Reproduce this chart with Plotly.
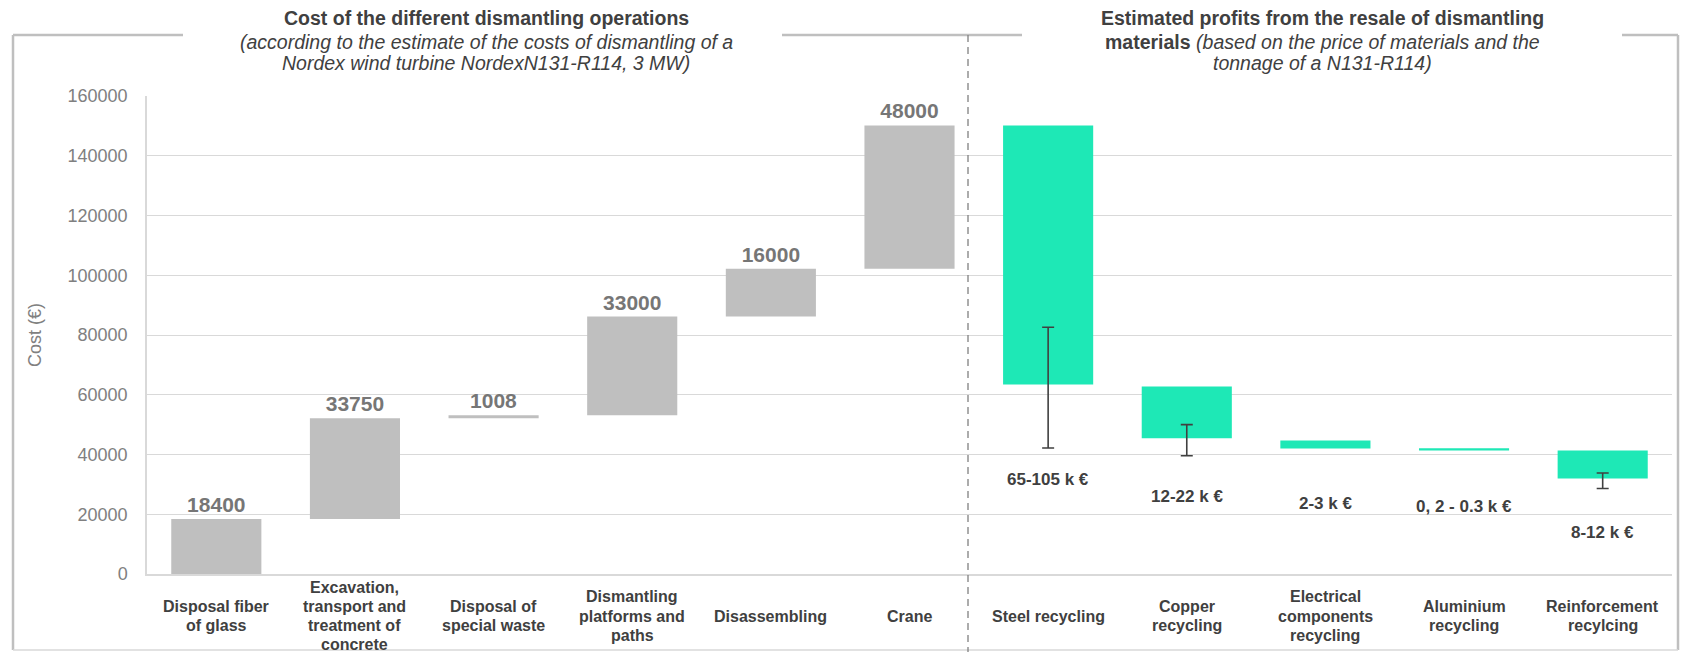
import plotly.graph_objects as go

# ---------------- data ----------------
cost_categories = [
    "Disposal fiber<br>of glass",
    "Excavation,<br>transport and<br>treatment of<br>concrete",
    "Disposal of<br>special waste",
    "Dismantling<br>platforms and<br>paths",
    "Disassembling",
    "Crane",
]
cost_values = [18400, 33750, 1008, 33000, 16000, 48000]

profit_categories = [
    "Steel recycling",
    "Copper<br>recycling",
    "Electrical<br>components<br>recycling",
    "Aluminium<br>recycling",
    "Reinforcement<br>recylcing",
]
profit_top = [150158, 62800, 44700, 42100, 41300]
profit_bottom = [63400, 45400, 42000, 41300, 32000]
profit_labels = ["65-105 k €", "12-22 k €", "2-3 k €", "0, 2 - 0.3 k €", "8-12 k €"]
profit_label_y = [31700, 26000, 23600, 22600, 13900]

err_categories = ["Steel recycling", "Copper<br>recycling", "Reinforcement<br>recylcing"]
err_center = [62400, 44800, 31200]
err_half = [20200, 5200, 2600]

y_ticks = [0, 20000, 40000, 60000, 80000, 100000, 120000, 140000, 160000]

# ---------------- layout geometry ----------------
W, H = 1683, 652
L, R, T, B = 147, 1672, 96, 574
FONT = "Liberation Sans, Arial, sans-serif"


def px(xp):
    return (xp - L) / (R - L)


def py(yp):
    return (B - yp) / (B - T)


# waterfall bases for the cost bars
cost_base = []
run = 0
for v in cost_values:
    cost_base.append(run)
    run += v

all_categories = cost_categories + profit_categories

fig = go.Figure()

fig.add_trace(go.Bar(
    x=cost_categories, y=cost_values, base=cost_base,
    marker=dict(color="#BFBFBF", line=dict(width=0)),
    width=0.65,
    text=["<b>%d</b>" % v for v in cost_values], textposition="outside",
    textfont=dict(family=FONT, size=21, color="#767676"),
    cliponaxis=False, showlegend=False,
))

fig.add_trace(go.Bar(
    x=profit_categories,
    y=[t - b for t, b in zip(profit_top, profit_bottom)],
    base=profit_bottom,
    marker=dict(color="#1EE8B6", line=dict(width=0)),
    width=0.65, showlegend=False,
))

fig.add_trace(go.Scatter(
    x=err_categories, y=err_center, mode="markers",
    marker=dict(size=1, opacity=0),
    error_y=dict(type="data", array=err_half, symmetric=True,
                 color="#404040", thickness=1.6, width=6),
    showlegend=False,
))

annotations = []
for c, t, yv in zip(profit_categories, profit_labels, profit_label_y):
    annotations.append(dict(
        x=c, y=yv, xref="x", yref="y", text="<b>%s</b>" % t, showarrow=False,
        font=dict(family=FONT, size=17, color="#404040"),
    ))

# category labels, one annotation per line for tight line pitch
LABEL_CENTER, PITCH = 616, 19.3
for c in all_categories:
    lines = c.split("<br>")
    n = len(lines)
    for i, ln in enumerate(lines):
        yline = LABEL_CENTER + (i - (n - 1) / 2) * PITCH
        annotations.append(dict(
            x=c, y=py(yline), xref="x", yref="paper", text="<b>%s</b>" % ln,
            showarrow=False, yanchor="middle", xanchor="center",
            font=dict(family=FONT, size=16, color="#404040"),
        ))

# y axis title
annotations.append(dict(
    x=px(35), y=0.5, xref="paper", yref="paper", text="Cost (€)",
    textangle=-90, showarrow=False, xanchor="center", yanchor="middle",
    font=dict(family=FONT, size=18, color="#808080"),
))

# titles
title_font = dict(family=FONT, size=19.5, color="#404040")
left_cx, right_cx = px(486), px(1322)
annotations += [
    dict(x=left_cx, y=py(18), text="<b>Cost of the different dismantling operations</b>"),
    dict(x=left_cx, y=py(41.5), text="<i>(according to the estimate of the costs of dismantling of a</i>"),
    dict(x=left_cx, y=py(63), text="<i>Nordex wind turbine NordexN131-R114, 3 MW)</i>"),
    dict(x=right_cx, y=py(18), text="<b>Estimated profits from the resale of dismantling</b>"),
    dict(x=right_cx, y=py(41.5), text="<b>materials</b> <i>(based on the price of materials and the</i>"),
    dict(x=right_cx, y=py(63), text="<i>tonnage of a N131-R114)</i>"),
]
for a in annotations[-6:]:
    a.update(xref="paper", yref="paper", showarrow=False,
             xanchor="center", yanchor="middle", font=title_font)

frame = dict(color="#BFBFBF", width=2.5)
shapes = [
    dict(type="line", xref="paper", yref="paper", x0=px(13), x1=px(13), y0=py(35), y1=py(650), line=frame),
    dict(type="line", xref="paper", yref="paper", x0=px(1678), x1=px(1678), y0=py(35), y1=py(650), line=frame),
    dict(type="line", xref="paper", yref="paper", x0=px(13), x1=px(183), y0=py(35), y1=py(35), line=frame),
    dict(type="line", xref="paper", yref="paper", x0=px(782), x1=px(1022), y0=py(35), y1=py(35), line=frame),
    dict(type="line", xref="paper", yref="paper", x0=px(1622), x1=px(1678), y0=py(35), y1=py(35), line=frame),
    dict(type="line", xref="paper", yref="paper", x0=px(13), x1=px(1678), y0=py(650), y1=py(650),
         line=dict(color="#D9D9D9", width=1.5)),
    dict(type="line", xref="paper", yref="paper", x0=px(968), x1=px(968), y0=py(35), y1=py(652),
         line=dict(color="#808080", width=1.3, dash="7px,5px")),
]

fig.update_layout(
    width=W, height=H,
    margin=dict(l=L, r=W - R, t=T, b=H - B),
    paper_bgcolor="white", plot_bgcolor="white",
    barmode="overlay",
    annotations=annotations, shapes=shapes,
    font=dict(family=FONT),
    xaxis=dict(
        type="category", categoryorder="array", categoryarray=all_categories,
        range=[-0.5, len(all_categories) - 0.5],
        showticklabels=False, showgrid=False, ticks="",
        showline=True, linecolor="#D9D9D9", linewidth=1.5, zeroline=False,
    ),
    yaxis=dict(
        range=[0, 160000], tickvals=y_ticks, tickformat="d",
        showgrid=True, gridcolor="#D9D9D9", gridwidth=1.3,
        showline=True, linecolor="#D9D9D9", linewidth=1.5, zeroline=False,
        ticks="", ticklabelstandoff=14,
        tickfont=dict(family=FONT, size=18, color="#808080"),
    ),
)

fig.write_html("out.html")
